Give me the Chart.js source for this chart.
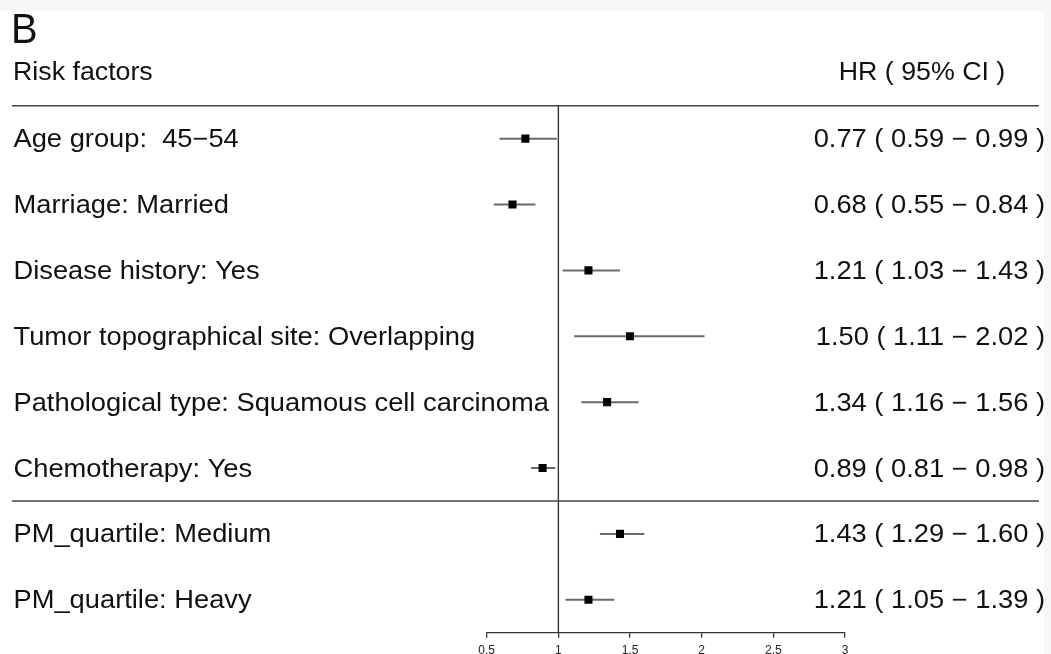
<!DOCTYPE html>
<html>
<head>
<meta charset="utf-8">
<script src="https://cdn.jsdelivr.net/npm/chart.js@4/dist/chart.umd.min.js"></script>
<style>
  html, body { margin: 0; padding: 0; background: #f7f7f7; }
  #wrap { width: 1051px; height: 654px; position: relative; }
</style>
</head>
<body>
<div id="wrap"><canvas id="forest"></canvas></div>
<script>
// Cox model results: one row per risk factor
const factors = [
  'Age group:  45\u221254',
  'Marriage: Married',
  'Disease history: Yes',
  'Tumor topographical site: Overlapping',
  'Pathological type: Squamous cell carcinoma',
  'Chemotherapy: Yes',
  'PM_quartile: Medium',
  'PM_quartile: Heavy'
];
const hr    = [0.77, 0.68, 1.21, 1.50, 1.34, 0.89, 1.43, 1.21];
const lower = [0.59, 0.55, 1.03, 1.11, 1.16, 0.81, 1.29, 1.05];
const upper = [0.99, 0.84, 1.43, 2.02, 1.56, 0.98, 1.60, 1.39];
const xTicks = [0.5, 1, 1.5, 2, 2.5, 3];
const panelLetter = 'B';
const headLeft = 'Risk factors';
const headRight = 'HR ( 95% CI )';
const groupBreakAfter = 5; // rule drawn below this row

const FONT = '"Liberation Sans", Arial, Helvetica, sans-serif';
const TEXT_STRETCH = 1.07; // slightly widened table text
const fmt = v => v.toFixed(2);

function stretchedText(ctx, text, x, y, align, sx) {
  ctx.save();
  ctx.translate(x, y);
  ctx.scale(sx, 1);
  ctx.textAlign = align;
  ctx.fillText(text, 0, 0);
  ctx.restore();
}

const tablePlugin = {
  id: 'forestTable',
  beforeDraw(chart) {
    const ctx = chart.ctx;
    ctx.save();
    ctx.fillStyle = '#f7f7f7';
    ctx.fillRect(0, 0, chart.width, chart.height);
    ctx.fillStyle = '#ffffff';
    ctx.fillRect(0, 11, 1044, chart.height - 11);
    ctx.restore();
  },
  beforeDatasetsDraw(chart) {
    const ctx = chart.ctx;
    const xs = chart.scales.x, ys = chart.scales.y;
    const area = chart.chartArea;
    ctx.save();
    // reference line at HR = 1
    ctx.strokeStyle = '#333';
    ctx.lineWidth = 1.4;
    const x1 = xs.getPixelForValue(1);
    ctx.beginPath();
    ctx.moveTo(x1, area.top);
    ctx.lineTo(x1, area.bottom);
    ctx.stroke();
    // confidence intervals
    ctx.strokeStyle = '#6a6a6a';
    ctx.lineWidth = 2;
    hr.forEach((_, i) => {
      const y = ys.getPixelForValue(i);
      ctx.beginPath();
      ctx.moveTo(xs.getPixelForValue(lower[i]), y);
      ctx.lineTo(xs.getPixelForValue(upper[i]), y);
      ctx.stroke();
    });
    ctx.restore();
  },
  afterDraw(chart) {
    const ctx = chart.ctx;
    const ys = chart.scales.y;
    ctx.save();
    ctx.fillStyle = '#111';
    ctx.textBaseline = 'alphabetic';
    // headings
    ctx.font = '42px ' + FONT;
    stretchedText(ctx, panelLetter, 11, 43, 'left', 0.95);
    ctx.font = '25px ' + FONT;
    stretchedText(ctx, headLeft, 13, 79.5, 'left', TEXT_STRETCH);
    stretchedText(ctx, headRight, 922, 79.5, 'center', TEXT_STRETCH);
    // rules
    ctx.strokeStyle = '#444';
    ctx.lineWidth = 1.5;
    const rules = [ys.getPixelForValue(-0.5), ys.getPixelForValue(groupBreakAfter + 0.5)];
    rules.forEach(y => {
      ctx.beginPath();
      ctx.moveTo(12, y);
      ctx.lineTo(1039, y);
      ctx.stroke();
    });
    // row labels and estimates
    ctx.font = '25.5px ' + FONT;
    factors.forEach((name, i) => {
      const y = ys.getPixelForValue(i) + 8.5;
      stretchedText(ctx, name, 13.5, y, 'left', TEXT_STRETCH);
      stretchedText(ctx, fmt(hr[i]) + ' ( ' + fmt(lower[i]) + ' \u2212 ' + fmt(upper[i]) + ' )',
                    1045, y, 'right', TEXT_STRETCH);
    });
    ctx.restore();
  }
};

new Chart(document.getElementById('forest'), {
  type: 'scatter',
  data: {
    datasets: [{
      data: hr.map((v, i) => ({ x: v, y: i })),
      pointStyle: 'rect',
      pointRadius: 5.7,
      pointHoverRadius: 5.7,
      backgroundColor: '#000',
      borderWidth: 0
    }]
  },
  plugins: [tablePlugin],
  options: {
    responsive: true,
    maintainAspectRatio: false,
    animation: false,
    events: [],
    layout: { padding: { left: 486.7, right: 206, top: 105.7, bottom: 0 } },
    plugins: { legend: { display: false }, tooltip: { enabled: false } },
    scales: {
      x: {
        type: 'linear',
        min: 0.5,
        max: 3,
        afterBuildTicks: s => { s.ticks = xTicks.map(v => ({ value: v })); },
        afterFit: s => { s.height = 21.3; },
        grid: { drawOnChartArea: false, drawTicks: true, tickLength: 5, color: '#333', lineWidth: 1.3 },
        border: { display: true, color: '#333', width: 1.3 },
        ticks: { color: '#222', padding: 6, font: { family: FONT, size: 12 }, maxRotation: 0,
                 callback: v => String(v) }
      },
      y: {
        type: 'linear',
        min: -0.5,
        max: 7.5,
        reverse: true,
        display: false
      }
    }
  }
});
</script>
</body>
</html>
